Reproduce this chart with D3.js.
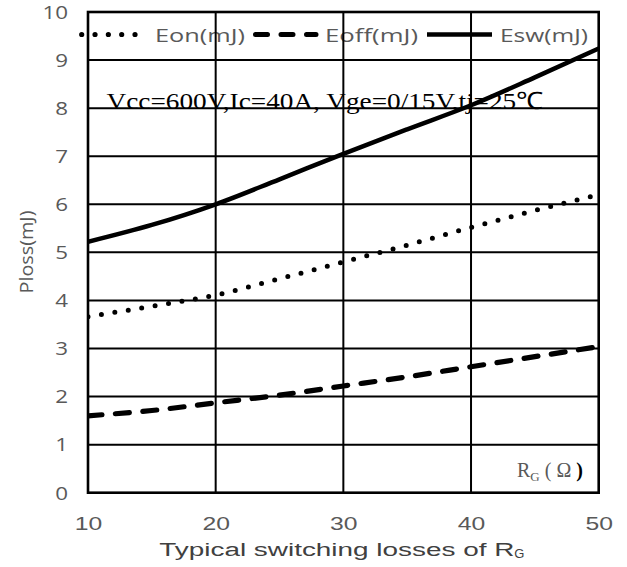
<!DOCTYPE html>
<html>
<head>
<meta charset="utf-8">
<script src="https://cdn.jsdelivr.net/npm/d3@7"></script>
<style>
  html, body { margin: 0; padding: 0; background: #fff; }
  svg { display: block; }
</style>
</head>
<body>
<svg id="chart" width="627" height="567"></svg>
<script>
// Gate resistance (ohm) and switching energies (mJ)
const rg   = [10, 15, 20, 25, 30, 35, 40, 45, 50];
const eon  = [3.66, 3.88, 4.11, 4.45, 4.80, 5.15, 5.52, 5.87, 6.20];
const eoff = [1.60, 1.71, 1.87, 2.03, 2.22, 2.41, 2.62, 2.83, 3.04];
const esw  = [5.22, 5.57, 6.00, 6.52, 7.05, 7.56, 8.06, 8.64, 9.24];

const xTicks = [10, 20, 30, 40, 50];
const yTicks = [0, 1, 2, 3, 4, 5, 6, 7, 8, 9, 10];

const seriesNames = ["Eon(mJ)", "Eoff(mJ)", "Esw(mJ)"];
const conditionText = "Vcc=600V,Ic=40A, Vge=0/15V,tj=25\u2103";

const svg = d3.select("#chart");
const plotL = 88, plotR = 598.7, plotT = 12, plotB = 492.7;

const x = d3.scaleLinear().domain([10, 50]).range([plotL, plotR]);
const y = d3.scaleLinear().domain([0, 10]).range([plotB, plotT]);

const tickGray = "#595959";

// legend text (drawn first so grid lines sit over it)
const legend = svg.append("g").attr("class", "legend");
const legendText = [
  { t: seriesNames[0], x: 155, w: 90 },
  { t: seriesNames[1], x: 325, w: 93 },
  { t: seriesNames[2], x: 500, w: 88 }
];
legend.selectAll("text").data(legendText).join("text")
  .attr("x", d => d.x).attr("y", 41.5)
  .attr("font-family", "'Open Sans', sans-serif")
  .attr("font-size", 17.5)
  .attr("fill", tickGray)
  .attr("textLength", d => d.w)
  .attr("lengthAdjust", "spacingAndGlyphs")
  .text(d => d.t);

// condition annotation
svg.append("text")
  .attr("x", 106.5).attr("y", 108.5)
  .attr("font-family", "'Liberation Serif', 'Times New Roman', serif")
  .attr("font-size", 24)
  .attr("fill", "#000")
  .attr("textLength", 437)
  .attr("lengthAdjust", "spacingAndGlyphs")
  .text(conditionText);

// grid
const grid = svg.append("g").attr("stroke", "#000").attr("stroke-width", 2);
grid.selectAll("line.h").data(yTicks.slice(1, -1)).join("line")
  .attr("class", "h")
  .attr("x1", plotL).attr("x2", plotR)
  .attr("y1", d => y(d)).attr("y2", d => y(d));
grid.selectAll("line.v").data(xTicks.slice(1, -1)).join("line")
  .attr("class", "v")
  .attr("y1", plotT).attr("y2", plotB)
  .attr("x1", d => x(d)).attr("x2", d => x(d));

// curves
const line = d3.line()
  .x(d => x(d[0])).y(d => y(d[1]))
  .curve(d3.curveMonotoneX);

const styles = {
  eon:  { w: 5, dash: "0 13.6", cap: "round" },
  eoff: { w: 5.2, dash: "14 13.5", cap: "round" },
  esw:  { w: 4.5, dash: null, cap: "butt" }
};

svg.append("defs").append("clipPath").attr("id", "plotClip")
  .append("rect").attr("x", plotL).attr("y", plotT)
  .attr("width", plotR - plotL).attr("height", plotB - plotT);

const curves = svg.append("g").attr("clip-path", "url(#plotClip)");
[[eon, styles.eon], [eoff, styles.eoff], [esw, styles.esw]].forEach(([vals, s]) => {
  curves.append("path")
    .datum(rg.map((r, i) => [r, vals[i]]))
    .attr("d", line)
    .attr("fill", "none")
    .attr("stroke", "#000")
    .attr("stroke-width", s.w)
    .attr("stroke-linecap", s.cap)
    .attr("stroke-dasharray", s.dash);
});

// legend samples
const ly = 34.5;
legend.append("line").attr("x1", 81.7).attr("x2", 135.1).attr("y1", ly).attr("y2", ly)
  .attr("stroke", "#000").attr("stroke-width", 5.2).attr("stroke-linecap", "round")
  .attr("stroke-dasharray", "0 13.33");
legend.append("line").attr("x1", 255.5).attr("x2", 316).attr("y1", ly).attr("y2", ly)
  .attr("stroke", "#000").attr("stroke-width", 5).attr("stroke-linecap", "round")
  .attr("stroke-dasharray", "12 13.5");
legend.append("line").attr("x1", 427).attr("x2", 492).attr("y1", ly).attr("y2", ly)
  .attr("stroke", "#000").attr("stroke-width", 4.7);

// plot border
svg.append("rect")
  .attr("x", plotL).attr("y", plotT)
  .attr("width", plotR - plotL).attr("height", plotB - plotT)
  .attr("fill", "none").attr("stroke", "#000").attr("stroke-width", 2.6);

// axes (labels only; the frame is the border)
const xAxis = svg.append("g")
  .attr("transform", `translate(0,${plotB})`)
  .call(d3.axisBottom(x).tickValues(xTicks).tickSize(0).tickPadding(0).tickFormat(d3.format("d")));
xAxis.select(".domain").remove();
xAxis.selectAll("text")
  .attr("y", 37.3).attr("dy", null)
  .attr("font-family", "'Liberation Sans', Arial, sans-serif")
  .attr("font-size", 18.5)
  .attr("fill", tickGray)
  .attr("textLength", 27.5)
  .attr("lengthAdjust", "spacingAndGlyphs");

const yAxis = svg.append("g")
  .attr("transform", `translate(${plotL},0)`)
  .call(d3.axisLeft(y).tickValues(yTicks).tickSize(0).tickPadding(0).tickFormat(d3.format("d")));
yAxis.select(".domain").remove();
yAxis.selectAll("text")
  .attr("x", -20).attr("dy", "0.36em")
  .attr("font-family", "'Open Sans', sans-serif")
  .attr("font-size", 17.5)
  .attr("fill", tickGray)
  .attr("textLength", d => d >= 10 ? 25.6 : 12.8)
  .attr("lengthAdjust", "spacingAndGlyphs");

// axis titles
svg.append("text")
  .attr("transform", "translate(33,252) rotate(-90)")
  .attr("text-anchor", "middle")
  .attr("font-family", "'Open Sans', sans-serif")
  .attr("font-size", 18)
  .attr("fill", tickGray)
  .attr("textLength", 83)
  .attr("lengthAdjust", "spacingAndGlyphs")
  .text("Ploss(mJ)");

const xt = svg.append("text")
  .attr("x", 159.3).attr("y", 556)
  .attr("font-family", "'Liberation Sans', Arial, sans-serif")
  .attr("font-size", 18.8)
  .attr("fill", "#404040");
xt.append("tspan").attr("textLength", 355).attr("lengthAdjust", "spacingAndGlyphs")
  .text("Typical switching losses of R");
xt.append("tspan").attr("dy", 2).attr("font-size", 13).text("G");

// unit label inside the plot
const rl = svg.append("text")
  .attr("x", 517).attr("y", 476.7)
  .attr("font-family", "'Liberation Serif', 'Times New Roman', serif")
  .attr("font-size", 20)
  .attr("fill", tickGray);
rl.append("tspan").text("R");
rl.append("tspan").attr("dy", 4).attr("font-size", 13).text("G");
rl.append("tspan").attr("dy", -4).text(" ( \u03A9 ");
rl.append("tspan").attr("fill", "#000").attr("font-weight", "bold").text(")");
</script>
</body>
</html>
